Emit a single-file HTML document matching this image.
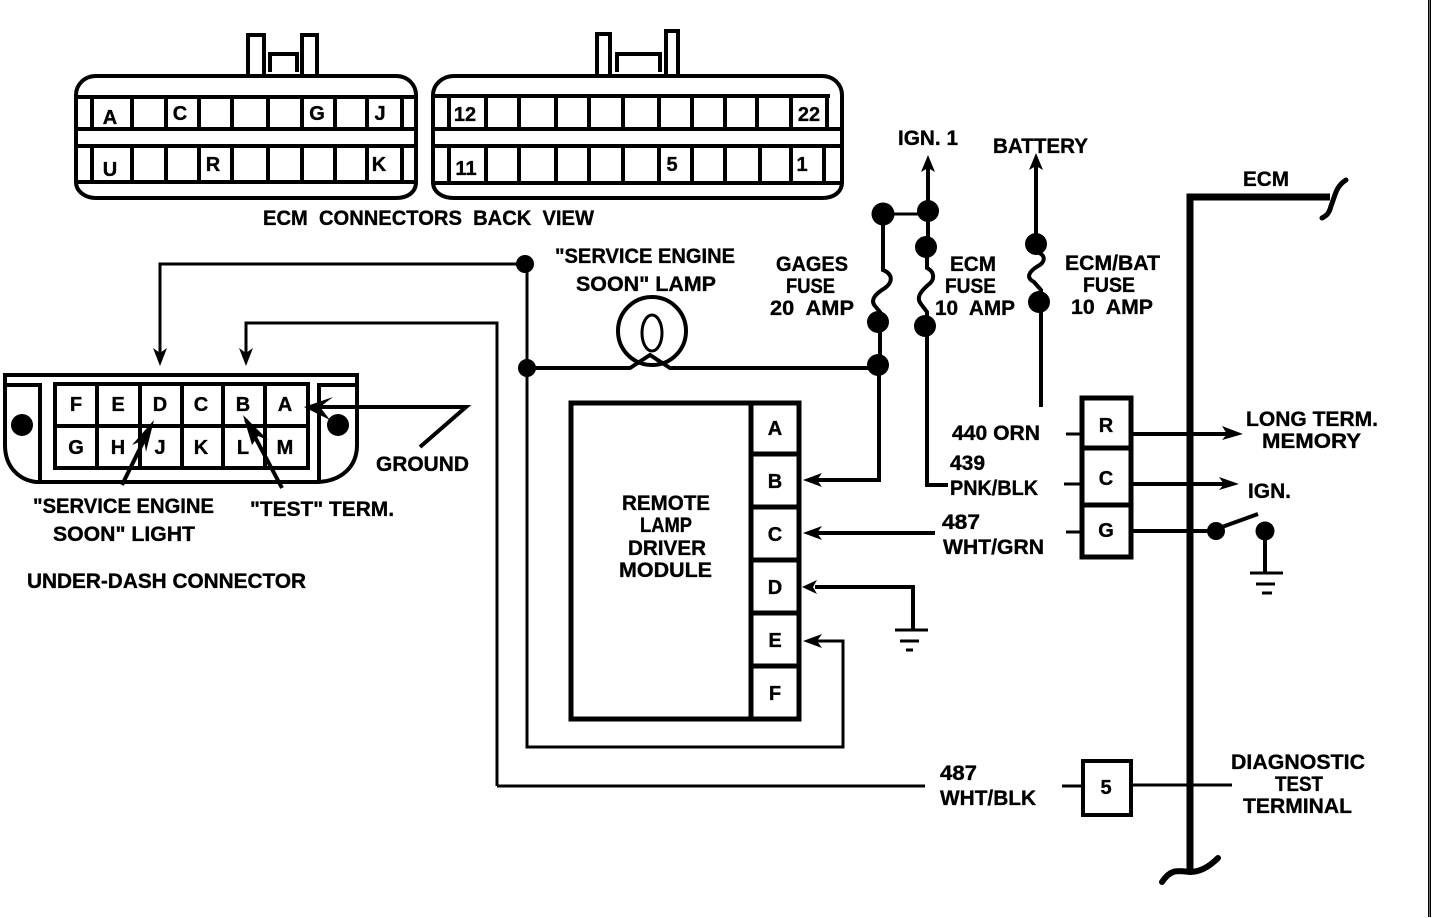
<!DOCTYPE html>
<html>
<head>
<meta charset="utf-8">
<style>
html,body{margin:0;padding:0;background:#fff;width:1456px;height:918px;overflow:hidden}
svg{display:block}
text{font-family:"Liberation Sans",sans-serif;font-weight:bold;font-size:21px;fill:#000;stroke:#000;stroke-width:.35px;white-space:pre}
.c{font-size:20px;text-anchor:middle}
.w{fill:none;stroke:#000;stroke-width:3}
.t{fill:none;stroke:#000;stroke-width:4}
.b{fill:none;stroke:#000;stroke-width:5}
</style>
</head>
<body>
<svg width="1456" height="918" viewBox="0 0 1456 918" xmlns="http://www.w3.org/2000/svg">
<rect width="1456" height="918" fill="#fff"/>

<!-- ECM connector 1 -->
<path class="t" d="M248 75V35H264V75M302 75V35H317V75"/>
<path class="t" d="M270 72V54H297V72"/>
<path class="t" d="M76 182V95C76 85 84 76 96 76H396C408 76 416 85 416 95V182C416 192 408 198 396 198H96C86 198 76 192 76 182Z"/>
<path class="t" d="M77 97H416M77 129H416M77 146H416M77 182H416"/>
<path class="t" d="M92 97V129M132 97V129M166 97V129M199 97V129M232 97V129M268 97V129M302 97V129M335 97V129M367 97V129M402 97V129"/>
<path class="t" d="M92 146V182M132 146V182M166 146V182M199 146V182M232 146V182M268 146V182M302 146V182M335 146V182M367 146V182M402 146V182"/>
<text class="c" x="110" y="124">A</text>
<text class="c" x="180" y="120">C</text>
<text class="c" x="317" y="120">G</text>
<text class="c" x="380" y="120">J</text>
<text class="c" x="110" y="176">U</text>
<text class="c" x="213" y="171">R</text>
<text class="c" x="379" y="171">K</text>

<!-- ECM connector 2 -->
<path class="t" d="M597 75V34H610V75M666 75V31H678V75"/>
<path class="t" d="M617 72V54H660V72"/>
<path class="t" d="M433 182V95C433 85 442 76 454 76H822C834 76 842 85 842 95V182C842 192 834 198 822 198H454C442 198 433 192 433 182Z"/>
<path class="t" d="M433 96H830M433 129H842M433 146H842M433 183H842"/>
<path class="t" d="M449 96V129M486 96V129M519 96V129M556 96V129M589 96V129M623 96V129M659 96V129M692 96V129M725 96V129M757 96V129M791 96V129M827 96V129"/>
<path class="t" d="M449 146V183M486 146V183M519 146V183M556 146V183M589 146V183M623 146V183M659 146V183M692 146V183M725 146V183M760 146V183M791 146V183M824 146V183"/>
<text class="c" x="465" y="121">12</text>
<text class="c" x="809" y="121">22</text>
<text class="c" x="466" y="175">11</text>
<text class="c" x="672" y="171">5</text>
<text class="c" x="802" y="171">1</text>
<text x="263" y="225" textLength="331" lengthAdjust="spacingAndGlyphs">ECM  CONNECTORS  BACK  VIEW</text>

<!-- Under-dash connector -->
<path class="t" d="M5 375H357V445C357 468 340 481 318 482H36C20 480 5 468 5 445Z"/>
<path class="t" d="M5 385H40V482M357 385H319V482"/>
<rect x="55" y="384" width="253" height="84" class="t"/>
<path class="t" d="M55 426H308M97 384V468M140 384V468M182 384V468M223 384V468M265 384V468"/>
<circle cx="22" cy="425" r="11"/>
<circle cx="338" cy="425" r="11"/>
<text class="c" x="76" y="411">F</text>
<text class="c" x="118" y="411">E</text>
<text class="c" x="160" y="411">D</text>
<text class="c" x="201" y="411">C</text>
<text class="c" x="243" y="411">B</text>
<text class="c" x="285" y="411">A</text>
<text class="c" x="76" y="454">G</text>
<text class="c" x="118" y="454">H</text>
<text class="c" x="160" y="454">J</text>
<text class="c" x="201" y="454">K</text>
<text class="c" x="243" y="454">L</text>
<text class="c" x="285" y="454">M</text>
<path class="t" d="M122 485L150 428M282 488L246 420"/>
<polygon points="154,420 132,445 144,440 146,452"/>
<polygon points="243,415 252,445 258,436 268,440"/>
<path class="t" d="M310 407H466L420 447"/>
<polygon points="304,407 333,397 320,407 330,420"/>
<text x="376" y="471" textLength="93" lengthAdjust="spacingAndGlyphs">GROUND</text>
<text x="33" y="513" textLength="181" lengthAdjust="spacingAndGlyphs">"SERVICE ENGINE</text>
<text x="53" y="541" textLength="142" lengthAdjust="spacingAndGlyphs">SOON" LIGHT</text>
<text x="250" y="516" textLength="144" lengthAdjust="spacingAndGlyphs">"TEST" TERM.</text>
<text x="27" y="588" textLength="279" lengthAdjust="spacingAndGlyphs">UNDER-DASH CONNECTOR</text>

<!-- Wires -->
<path class="w" d="M527 264H160V355"/>
<polygon points="160,366 153,348 160,353 167,348"/>
<path class="w" d="M497 786V323H246V355"/>
<polygon points="246,366 239,348 246,353 253,348"/>
<path class="w" d="M497 786H925"/>
<circle cx="525" cy="264" r="9"/>
<path class="w" d="M527 264V747H843V641H815"/>
<circle cx="527" cy="368" r="9"/>
<path class="t" d="M527 368H630L650 355L670 368H878"/>
<polygon points="803,641 822,634 817,641 822,648"/>

<!-- Lamp -->
<circle cx="652" cy="331" r="34" class="t"/>
<ellipse cx="652" cy="333" rx="10" ry="18" class="w"/>
<text x="555" y="263" textLength="180" lengthAdjust="spacingAndGlyphs">"SERVICE ENGINE</text>
<text x="576" y="291" textLength="140" lengthAdjust="spacingAndGlyphs">SOON" LAMP</text>

<!-- Fuses -->
<path class="t" d="M883 214V270C893 274 893 282 885 288C875 294 870 300 875 306L880 312V365"/>
<path class="t" d="M879 365V480H815"/>
<polygon points="803,480 822,473 817,480 822,487"/>
<path class="w" d="M883 214H928"/>
<path class="t" d="M928 247V165"/>
<polygon points="928,155 921,172 928,168 935,172"/>
<path class="t" d="M927 247V268C935 272 935 280 928 285C920 292 916 298 921 304L927 312V485H948"/>
<path class="t" d="M1036 245V165"/>
<polygon points="1036,153 1029,170 1036,166 1043,170"/>
<path class="t" d="M1036 245V252C1046 254 1046 262 1038 266C1028 272 1026 278 1034 282L1041 290V407"/>
<circle cx="883" cy="214" r="11.5"/>
<circle cx="928" cy="211" r="11"/>
<circle cx="926" cy="247" r="11"/>
<circle cx="878" cy="322" r="11"/>
<circle cx="878" cy="365" r="11"/>
<circle cx="925" cy="326" r="11"/>
<circle cx="1036" cy="244" r="11"/>
<circle cx="1039" cy="302" r="11"/>

<text x="776" y="271" textLength="72" lengthAdjust="spacingAndGlyphs">GAGES</text>
<text x="786" y="293" textLength="49" lengthAdjust="spacingAndGlyphs">FUSE</text>
<text x="770" y="315" textLength="84" lengthAdjust="spacingAndGlyphs">20  AMP</text>
<text x="950" y="271" textLength="46" lengthAdjust="spacingAndGlyphs">ECM</text>
<text x="945" y="293" textLength="51" lengthAdjust="spacingAndGlyphs">FUSE</text>
<text x="935" y="315" textLength="80" lengthAdjust="spacingAndGlyphs">10  AMP</text>
<text x="1065" y="270" textLength="95" lengthAdjust="spacingAndGlyphs">ECM/BAT</text>
<text x="1083" y="292" textLength="52" lengthAdjust="spacingAndGlyphs">FUSE</text>
<text x="1071" y="314" textLength="82" lengthAdjust="spacingAndGlyphs">10  AMP</text>
<text x="898" y="145" textLength="60" lengthAdjust="spacingAndGlyphs">IGN. 1</text>
<text x="993" y="153" textLength="95" lengthAdjust="spacingAndGlyphs">BATTERY</text>
<text x="1243" y="186" textLength="46" lengthAdjust="spacingAndGlyphs">ECM</text>

<!-- Module -->
<rect x="571" y="403" width="228" height="316" class="b"/>
<path class="b" d="M751 403V719M751 454H799M751 507H799"/>
<path class="b" d="M751 560H799M751 613H799M751 666H799"/>
<text class="c" x="775" y="435">A</text>
<text class="c" x="775" y="488">B</text>
<text class="c" x="775" y="541">C</text>
<text class="c" x="775" y="594">D</text>
<text class="c" x="775" y="647">E</text>
<text class="c" x="775" y="700">F</text>
<text x="622" y="510" textLength="88" lengthAdjust="spacingAndGlyphs">REMOTE</text>
<text x="640" y="532" textLength="52" lengthAdjust="spacingAndGlyphs">LAMP</text>
<text x="628" y="555" textLength="78" lengthAdjust="spacingAndGlyphs">DRIVER</text>
<text x="619" y="577" textLength="93" lengthAdjust="spacingAndGlyphs">MODULE</text>

<path class="t" d="M815 533H935"/>
<polygon points="803,533 822,526 817,533 822,540"/>
<path class="t" d="M815 587H913V630"/>
<polygon points="802,587 817,580 813,587 817,594"/>
<path class="w" d="M895 630H928"/>
<path class="w" d="M900 641H919"/>
<path class="w" d="M906 650H913"/>

<!-- Wire labels -->
<text x="952" y="440" textLength="88" lengthAdjust="spacingAndGlyphs">440 ORN</text>
<text x="950" y="470" textLength="35" lengthAdjust="spacingAndGlyphs">439</text>
<text x="950" y="495" textLength="88" lengthAdjust="spacingAndGlyphs">PNK/BLK</text>
<text x="942" y="529" textLength="38" lengthAdjust="spacingAndGlyphs">487</text>
<text x="943" y="554" textLength="101" lengthAdjust="spacingAndGlyphs">WHT/GRN</text>
<text x="940" y="780" textLength="37" lengthAdjust="spacingAndGlyphs">487</text>
<text x="940" y="805" textLength="96" lengthAdjust="spacingAndGlyphs">WHT/BLK</text>

<!-- ECM boxes -->
<rect x="1082" y="398" width="49" height="159" class="b"/>
<path class="b" d="M1082 448H1131M1082 505H1131"/>
<text class="c" x="1106" y="432">R</text>
<text class="c" x="1106" y="485">C</text>
<text class="c" x="1106" y="537">G</text>
<path class="w" d="M1066 434H1081M1064 484H1081M1066 532H1081"/>
<rect x="1083" y="761" width="48" height="54" class="t"/>
<text class="c" x="1106" y="794">5</text>
<path class="w" d="M1062 786H1081"/>

<!-- ECM bar -->
<path d="M1190 870V197H1330" fill="none" stroke="#000" stroke-width="7"/>
<path d="M1346 180C1336 186 1335 196 1331 206C1329 214 1326 216 1322 218" fill="none" stroke="#000" stroke-width="5" stroke-linecap="round"/>
<path d="M1162 882C1170 870 1176 870 1190 872C1200 872 1210 866 1218 858" fill="none" stroke="#000" stroke-width="6" stroke-linecap="round"/>

<!-- Right wires -->
<path class="t" d="M1133 434H1228"/>
<polygon points="1243,434 1222,426 1227,434 1222,440"/>
<path class="t" d="M1133 484H1225"/>
<polygon points="1239,484 1219,477 1224,484 1219,490"/>
<path class="t" d="M1133 531H1208"/>
<circle cx="1216" cy="531" r="9"/>
<path class="t" d="M1222 527L1258 514"/>
<circle cx="1265" cy="531" r="9.5"/>
<path class="t" d="M1265 535V573"/>
<path class="w" d="M1250 573H1283M1256 584H1275M1262 593H1272"/>
<path class="w" d="M1133 785H1232"/>

<text x="1246" y="426" textLength="132" lengthAdjust="spacingAndGlyphs">LONG TERM.</text>
<text x="1262" y="448" textLength="99" lengthAdjust="spacingAndGlyphs">MEMORY</text>
<text x="1248" y="498" textLength="43" lengthAdjust="spacingAndGlyphs">IGN.</text>
<text x="1231" y="769" textLength="134" lengthAdjust="spacingAndGlyphs">DIAGNOSTIC</text>
<text x="1275" y="791" textLength="48" lengthAdjust="spacingAndGlyphs">TEST</text>
<text x="1243" y="813" textLength="109" lengthAdjust="spacingAndGlyphs">TERMINAL</text>

<!-- Right border -->
<rect x="1428" y="0" width="3" height="917" fill="#000"/>
<rect x="1429.2" y="0" width="0.8" height="917" fill="#888"/>
</svg>
</body>
</html>
